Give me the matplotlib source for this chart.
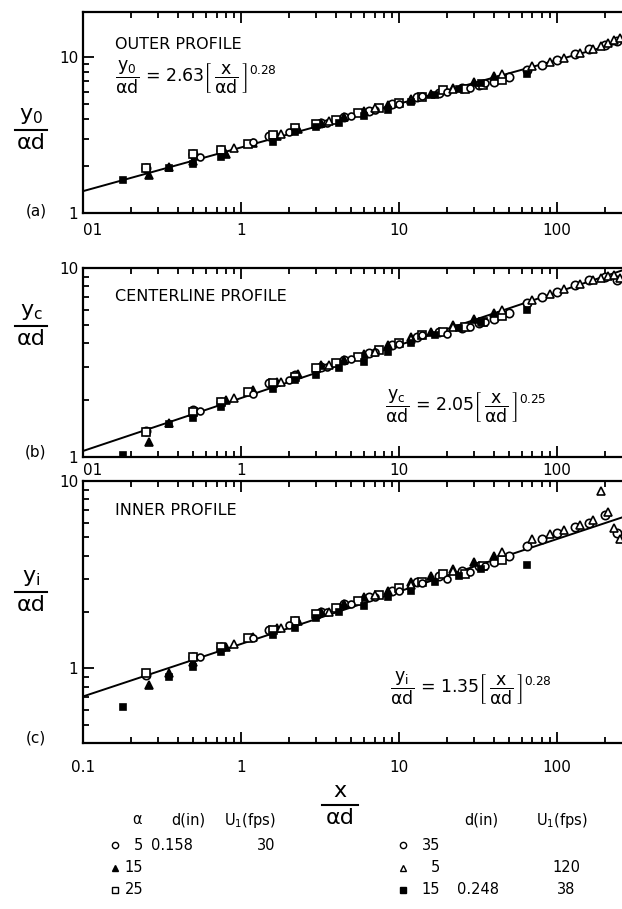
#!/usr/bin/env python3

import numpy as np
import matplotlib
matplotlib.use('Agg')
from matplotlib import pyplot as plt
from matplotlib.lines import Line2D
from matplotlib.ticker import LogLocator, NullFormatter

plt.rcParams['font.family'] = ['DejaVu Sans']
plt.rcParams['mathtext.fontset'] = 'dejavusans'
plt.rcParams['mathtext.default'] = 'regular'

W, H = 622, 909

# --- data (x/alpha d, y/alpha d) ---
# open circle, alpha=5, d=0.158, U1=30
x_s1 = [0.25, 0.5, 0.75, 1.5, 2.2, 3.2, 4.5, 6.5, 9, 13, 18, 25, 32, 40, 50, 65, 80, 100, 130, 160, 200, 240]
ya_s1 = [1.95, 2.38, 2.55, 3.1, 3.45, 3.8, 4.1, 4.5, 5.0, 5.5, 5.9, 6.3, 6.6, 6.9, 7.4, 8.2, 8.9, 9.6, 10.4, 11.2, 12.0, 12.6]
yb_s1 = [1.38, 1.78, 1.95, 2.45, 2.7, 3.0, 3.25, 3.55, 3.9, 4.3, 4.6, 4.8, 5.1, 5.4, 5.8, 6.5, 7.0, 7.5, 8.1, 8.6, 9.0, 8.6]
yc_s1 = [0.92, 1.15, 1.3, 1.6, 1.8, 2.0, 2.2, 2.4, 2.6, 2.9, 3.1, 3.3, 3.5, 3.7, 4.0, 4.5, 4.9, 5.3, 5.7, 6.0, 6.6, 5.3]

# filled triangle, alpha=15
x_s2 = [0.26, 0.35, 0.5, 0.8, 1.2, 1.7, 2.3, 3.2, 4.5, 6, 8.5, 12, 16, 22, 30, 40]
ya_s2 = [1.75, 1.98, 2.15, 2.4, 2.8, 3.1, 3.45, 3.75, 4.1, 4.5, 4.95, 5.35, 5.8, 6.35, 6.9, 7.5]
yb_s2 = [1.2, 1.52, 1.72, 2.0, 2.25, 2.5, 2.75, 3.05, 3.25, 3.5, 3.9, 4.3, 4.6, 5.0, 5.4, 5.8]
yc_s2 = [0.82, 0.95, 1.08, 1.3, 1.48, 1.65, 1.8, 2.0, 2.2, 2.4, 2.6, 2.9, 3.1, 3.4, 3.7, 4.0]

# open square, alpha=25
x_s3 = [0.25, 0.5, 0.75, 1.1, 1.6, 2.2, 3, 4, 5.5, 7.5, 10, 14, 19, 26, 34, 45]
ya_s3 = [1.95, 2.4, 2.55, 2.75, 3.15, 3.5, 3.7, 3.95, 4.35, 4.7, 5.05, 5.5, 6.1, 6.2, 6.6, 7.1]
yb_s3 = [1.35, 1.72, 1.95, 2.2, 2.45, 2.65, 2.95, 3.15, 3.4, 3.7, 4.0, 4.4, 4.6, 4.9, 5.2, 5.6]
yc_s3 = [0.95, 1.15, 1.3, 1.45, 1.6, 1.8, 1.95, 2.1, 2.3, 2.45, 2.7, 2.9, 3.2, 3.2, 3.5, 3.8]

# open circle, alpha=35
x_s4 = [0.55, 1.2, 2.0, 3.5, 5, 7, 10, 14, 20, 28, 35]
ya_s4 = [2.3, 2.85, 3.3, 3.8, 4.2, 4.6, 5.0, 5.6, 6.0, 6.3, 6.8]
yb_s4 = [1.75, 2.15, 2.55, 3.0, 3.3, 3.6, 3.95, 4.4, 4.5, 4.9, 5.2]
yc_s4 = [1.15, 1.45, 1.7, 2.0, 2.2, 2.4, 2.6, 2.85, 3.0, 3.25, 3.5]

# open triangle, alpha=5, U1=120
x_s5 = [0.9, 1.8, 3.6, 7, 12, 22, 45, 70, 90, 110, 140, 170, 190, 210, 230, 250]
ya_s5 = [2.6, 3.2, 3.9, 4.7, 5.3, 6.2, 7.8, 8.7, 9.3, 9.9, 10.6, 11.3, 11.8, 12.3, 12.8, 13.2]
yb_s5 = [2.05, 2.5, 3.05, 3.6, 4.2, 4.9, 6.0, 6.8, 7.3, 7.7, 8.2, 8.6, 8.9, 9.1, 9.2, 8.9]
yc_s5 = [1.35, 1.65, 2.0, 2.45, 2.8, 3.3, 4.2, 4.9, 5.2, 5.5, 5.8, 6.2, 8.8, 6.8, 5.6, 4.9]

# filled square, alpha=15, d=0.248, U1=38
x_s6 = [0.18, 0.35, 0.5, 0.75, 1.6, 2.2, 3, 4.2, 6, 8.5, 12, 17, 24, 33, 65]
ya_s6 = [1.63, 1.95, 2.05, 2.3, 2.85, 3.3, 3.55, 3.8, 4.2, 4.6, 5.15, 5.7, 6.2, 6.8, 7.8]
yb_s6 = [1.02, 1.5, 1.6, 1.85, 2.3, 2.55, 2.7, 2.95, 3.2, 3.6, 4.0, 4.4, 4.8, 5.2, 6.0]
yc_s6 = [0.62, 0.9, 1.02, 1.22, 1.5, 1.65, 1.85, 2.0, 2.15, 2.4, 2.6, 2.9, 3.1, 3.4, 3.55]

panel_names = ["OUTER PROFILE", "CENTERLINE PROFILE", "INNER PROFILE"]
panel_tags = ["(a)", "(b)", "(c)"]
fit_coef = [2.63, 2.05, 1.35]
fit_exp = 0.28
eq_coef_text = ["2.63", "2.05", "1.35"]
eq_exp_text = ["0.28", "0.25", "0.28"]
y_subs = ["0", "c", "i"]
xtick_vals = [0.1, 1, 10, 100]
xtick_text = [["01", "1", "10", "100"], ["01", "1", "10", "100"], ["0.1", "1", "10", "100"]]

legend_alpha = ["5", "15", "25", "35", "5", "15"]
legend_d = ["0.158", "", "", "", "", "0.248"]
legend_u = ["30", "", "", "", "120", "38"]

xs = [x_s1, x_s2, x_s3, x_s4, x_s5, x_s6]
ys = [[ya_s1, ya_s2, ya_s3, ya_s4, ya_s5, ya_s6],
      [yb_s1, yb_s2, yb_s3, yb_s4, yb_s5, yb_s6],
      [yc_s1, yc_s2, yc_s3, yc_s4, yc_s5, yc_s6]]

styles = [
    dict(marker='o', mfc='white', mec='k', ms=6),
    dict(marker='^', mfc='k', mec='k', ms=5.5),
    dict(marker='s', mfc='white', mec='k', ms=5.5),
    dict(marker='o', mfc='white', mec='k', ms=5),
    dict(marker='^', mfc='white', mec='k', ms=6),
    dict(marker='s', mfc='k', mec='k', ms=5),
]


def px(x, y):
    return x / W, 1 - y / H


# panel boxes in pixels (top, bottom) and y limits
boxes = [(12, 213), (268, 457), (481, 743)]
ylims = [(1, 19.4), (1, 10), (0.4, 10)]
title_pos = [0.836, 0.847, 0.887]
eq_pos = [(0.06, 0.675), (0.56, 0.27), (0.57, 0.21)]
ylab_line = [130, 326, 592]
tag_y = [211, 452, 738]
xpad = [7, 4, 12]

fig = plt.figure(figsize=(W / 100, H / 100), dpi=100)

for i in range(3):
    top, bottom = boxes[i]
    ax = fig.add_axes([83 / W, 1 - bottom / H, 1 - 83 / W, (bottom - top) / H])
    ax.set_xscale('log')
    ax.set_yscale('log')
    ax.set_xlim(0.1, 258)
    ax.set_ylim(*ylims[i])

    xf = np.logspace(-1, np.log10(258), 100)
    ax.plot(xf, fit_coef[i] * xf ** fit_exp, color='k', lw=1.4, zorder=2)
    for xv, yv, st in zip(xs, ys[i], styles):
        ax.plot(xv, yv, ls='none', mew=1.2, zorder=3, **st)

    for s in ['top', 'bottom', 'left']:
        ax.spines[s].set_linewidth(1.6)
    ax.spines['right'].set_visible(False)
    ax.set_xticks(xtick_vals)
    ax.set_xticklabels(xtick_text[i])
    if i < 2:
        ax.get_xticklabels()[0].set_horizontalalignment('left')
    ax.xaxis.set_minor_locator(LogLocator(base=10, subs=np.arange(2, 10)))
    ax.xaxis.set_minor_formatter(NullFormatter())
    ax.yaxis.set_minor_locator(LogLocator(base=10, subs=np.arange(2, 10)))
    ax.yaxis.set_minor_formatter(NullFormatter())
    yt = [v for v in [1, 10] if ylims[i][0] <= v <= ylims[i][1]]
    ax.set_yticks(yt)
    ax.set_yticklabels([str(v) for v in yt])
    ax.tick_params(which='both', direction='in', top=True, right=False, width=1.3, labelsize=11, colors='k')
    ax.tick_params(which='major', length=8)
    ax.tick_params(which='minor', length=4.5)
    ax.tick_params(axis='x', pad=xpad[i])

    ax.text(0.06, title_pos[i], panel_names[i], transform=ax.transAxes, fontsize=11.5, va='center')
    eq = (r"$\dfrac{y_%s}{\alpha d}$ = %s$\left[\,\dfrac{x}{\alpha d}\,\right]^{%s}$"
          % (y_subs[i], eq_coef_text[i], eq_exp_text[i]))
    ax.text(eq_pos[i][0], eq_pos[i][1], eq, transform=ax.transAxes, fontsize=12.5, va='center')

    # y label as stacked fraction
    ly = ylab_line[i]
    fig.text(*px(31, ly - 4), r"$\mathregular{y_%s}$" % y_subs[i], fontsize=16, ha='center', va='bottom')
    fig.add_artist(Line2D([15 / W, 47 / W], [1 - ly / H] * 2, color='k', lw=1.5))
    fig.text(*px(31, ly + 3), "αd", fontsize=16, ha='center', va='top')
    fig.text(*px(36, tag_y[i]), panel_tags[i], fontsize=11, ha='center', va='center')

# x label fraction
fig.text(*px(340, 801), "x", fontsize=16, ha='center', va='bottom')
fig.add_artist(Line2D([322 / W, 358 / W], [1 - 805 / H] * 2, color='k', lw=1.5))
fig.text(*px(340, 808), "αd", fontsize=16, ha='center', va='top')

# legend block
hdr_y = 820
row_y = [845, 868, 890]
fs = 10.5
fig.text(*px(137, hdr_y), "α", fontsize=fs, ha='center', va='center')
fig.text(*px(188, hdr_y), "d(in)", fontsize=fs, ha='center', va='center')
fig.text(*px(250, hdr_y), r"$\mathregular{U_1}$(fps)", fontsize=fs, ha='center', va='center')
fig.text(*px(481, hdr_y), "d(in)", fontsize=fs, ha='center', va='center')
fig.text(*px(562, hdr_y), r"$\mathregular{U_1}$(fps)", fontsize=fs, ha='center', va='center')

cols = [(115, 143, 172, 266), (403, 440, 478, 566)]
for k in range(6):
    mx, nx, dx, ux = cols[k // 3]
    yy = row_y[k % 3]
    st = dict(styles[k])
    st['ms'] = 4.5
    fig.add_artist(Line2D([mx / W], [1 - yy / H], ls='none', mew=1.0, transform=fig.transFigure, **st))
    fig.text(*px(nx, yy), legend_alpha[k], fontsize=fs, ha='right', va='center')
    if legend_d[k]:
        fig.text(*px(dx, yy), legend_d[k], fontsize=fs, ha='center', va='center')
    if legend_u[k]:
        fig.text(*px(ux, yy), legend_u[k], fontsize=fs, ha='center', va='center')

plt.savefig('out.png', dpi=100)
